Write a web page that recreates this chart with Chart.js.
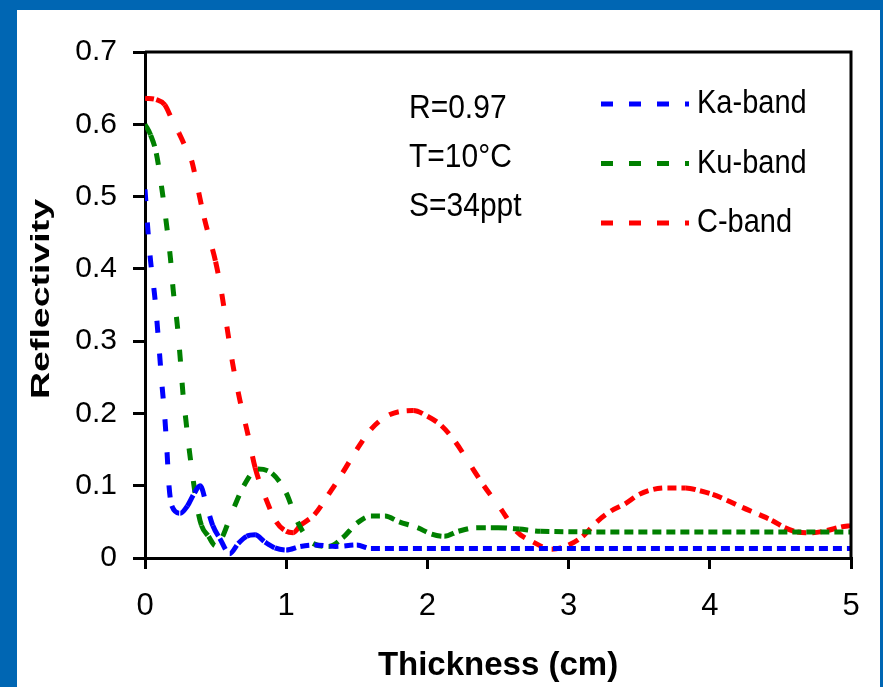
<!DOCTYPE html>
<html>
<head>
<meta charset="utf-8">
<script src="https://cdn.jsdelivr.net/npm/chart.js@4"></script>
<style>
  html, body { margin: 0; padding: 0; background: #fff; }
  #box { position: relative; width: 883px; height: 687px; }
</style>
</head>
<body>
<div id="box"><canvas id="refl"></canvas></div>
<script>
// Reflectivity vs thickness, three radar bands (R=0.97, T=10°C, S=34ppt)

const kaX = [0, 0.02, 0.04, 0.07, 0.1, 0.12, 0.14, 0.155, 0.17, 0.19, 0.25, 0.3, 0.35, 0.39, 0.44, 0.48, 0.53, 0.6, 0.66, 0.72, 0.78, 0.85, 0.92, 1.0, 1.1, 1.2, 1.35, 1.5, 1.6, 2, 3, 4, 5];
const kaY = [0.51, 0.455, 0.41, 0.36, 0.29, 0.24, 0.195, 0.15, 0.1, 0.072, 0.062, 0.072, 0.09, 0.1, 0.07, 0.045, 0.027, 0.006, 0.02, 0.03, 0.032, 0.022, 0.014, 0.011, 0.016, 0.018, 0.016, 0.018, 0.013, 0.013, 0.013, 0.013, 0.013];

const kuX = [0, 0.04, 0.08, 0.12, 0.15, 0.18, 0.2, 0.23, 0.25, 0.27, 0.29, 0.31, 0.34, 0.37, 0.4, 0.45, 0.5, 0.55, 0.6, 0.7, 0.8, 0.9, 1.0, 1.08, 1.19, 1.3, 1.4, 1.5, 1.6, 1.7, 1.8, 1.93, 2.03, 2.12, 2.22, 2.35, 2.5, 2.65, 2.8, 3.5, 4.5, 5];
const kuY = [0.6, 0.585, 0.56, 0.51, 0.465, 0.415, 0.37, 0.32, 0.275, 0.225, 0.19, 0.155, 0.11, 0.07, 0.045, 0.03, 0.017, 0.03, 0.055, 0.1, 0.123, 0.117, 0.09, 0.05, 0.02, 0.016, 0.028, 0.048, 0.058, 0.058, 0.05, 0.042, 0.033, 0.03, 0.037, 0.042, 0.042, 0.04, 0.037, 0.036, 0.036, 0.036];

const cX = [0, 0.08, 0.14, 0.19, 0.24, 0.29, 0.33, 0.37, 0.42, 0.46, 0.5, 0.54, 0.58, 0.62, 0.67, 0.73, 0.78, 0.86, 0.93, 1.0, 1.05, 1.1, 1.2, 1.3, 1.4, 1.5, 1.6, 1.73, 1.9, 2.0, 2.1, 2.2, 2.3, 2.4, 2.52, 2.63, 2.75, 2.88, 3.0, 3.1, 3.2, 3.3, 3.4, 3.5, 3.6, 3.7, 3.83, 3.93, 4.02, 4.12, 4.23, 4.35, 4.44, 4.53, 4.62, 4.73, 4.83, 4.93, 5];
const cY = [0.636, 0.634, 0.627, 0.607, 0.588, 0.567, 0.55, 0.515, 0.47, 0.44, 0.41, 0.37, 0.32, 0.27, 0.22, 0.17, 0.125, 0.08, 0.05, 0.037, 0.035, 0.045, 0.06, 0.088, 0.118, 0.15, 0.178, 0.198, 0.204, 0.196, 0.183, 0.16, 0.13, 0.1, 0.068, 0.037, 0.022, 0.012, 0.018, 0.03, 0.05, 0.065, 0.075, 0.088, 0.095, 0.097, 0.097, 0.093, 0.088, 0.08, 0.07, 0.06, 0.052, 0.042, 0.036, 0.035, 0.038, 0.043, 0.045];

const bandNames = ["Ka-band", "Ku-band", "C-band"];
const notes = ["R=0.97", "T=10°C", "S=34ppt"];
const xTicks = ["0", "1", "2", "3", "4", "5"];
const yTicks = ["0", "0.1", "0.2", "0.3", "0.4", "0.5", "0.6", "0.7"];

const COL = { ka: "#0000ff", ku: "#008000", c: "#ff0000", frame: "#0066b3", ink: "#000" };
const FONT = "'Liberation Sans', Arial, sans-serif";
Chart.defaults.font.family = FONT;
Chart.defaults.color = COL.ink;

// the source's dashes open up on steep stretches: short gaps when flat, long when vertical
const slopeDash = (c) => {
  const dx = c.p1.x - c.p0.x, dy = c.p1.y - c.p0.y;
  const s = Math.abs(dy) / (Math.hypot(dx, dy) || 1);
  return [Math.round(9 + 3 * s), Math.round(5 + 16 * s)];
};

const pts = (xs, ys) => xs.map((x, i) => ({ x, y: ys[i] }));
const line = (label, xs, ys, color) => ({
  label, data: pts(xs, ys), borderColor: color, backgroundColor: color,
  borderWidth: 5, borderDash: [9, 5], borderCapStyle: "butt",
  segment: { borderDash: slopeDash },
  pointRadius: 0, fill: false, cubicInterpolationMode: "monotone",
});

// text in the source is a little taller than it is wide
const tallText = (ctx, text, x, y, sy) => {
  ctx.save(); ctx.translate(x, y); ctx.scale(1, sy); ctx.fillText(text, 0, 0); ctx.restore();
};

// blue slide frame + white panel, box lines, legend, notes, rotated y title
const deco = {
  id: "deco",
  beforeDraw(chart) {
    const { ctx, width, height } = chart;
    ctx.save();
    ctx.fillStyle = COL.frame; ctx.fillRect(0, 0, width, height);
    ctx.fillStyle = "#fff"; ctx.fillRect(17, 10, 863, height - 10);
    ctx.restore();
  },
  afterDraw(chart) {
    const { ctx, chartArea: a } = chart;
    ctx.save();
    ctx.strokeStyle = COL.ink; ctx.lineWidth = 3;
    ctx.beginPath();
    ctx.moveTo(a.left, a.top); ctx.lineTo(a.right, a.top); ctx.lineTo(a.right, a.bottom);
    ctx.stroke();

    // legend
    chart.data.datasets.forEach((ds, i) => {
      const y = 104 + i * 59.5;
      ctx.strokeStyle = ds.borderColor; ctx.lineWidth = 5; ctx.setLineDash([12, 16]);
      ctx.beginPath(); ctx.moveTo(601, y); ctx.lineTo(689, y); ctx.stroke();
      ctx.setLineDash([]);
      ctx.fillStyle = COL.ink; ctx.font = "29px " + FONT;
      ctx.textAlign = "left"; ctx.textBaseline = "middle";
      tallText(ctx, ds.label, 697, y, 1.17);
    });

    // notes
    ctx.font = "30px " + FONT; ctx.textAlign = "left"; ctx.textBaseline = "middle";
    notes.forEach((t, i) => tallText(ctx, t, 409, 109 + i * 49, 1.08));

    // y title, stretched like the original
    ctx.translate(42, 299); ctx.rotate(-Math.PI / 2); ctx.scale(1.5, 1);
    ctx.font = "bold 25px " + FONT; ctx.textAlign = "center"; ctx.textBaseline = "middle";
    ctx.fillText("Reflectivity", 0, 0);
    ctx.restore();
  },
};

new Chart(document.getElementById("refl"), {
  type: "line",
  data: {
    datasets: [
      line(bandNames[0], kaX, kaY, COL.ka),
      line(bandNames[1], kuX, kuY, COL.ku),
      line(bandNames[2], cX, cY, COL.c),
    ],
  },
  plugins: [deco],
  options: {
    responsive: true, maintainAspectRatio: false, animation: false,
    layout: { padding: { top: 52, right: 32, bottom: 0, left: 0 } },
    plugins: { legend: { display: false }, tooltip: { enabled: false } },
    scales: {
      x: {
        type: "linear", min: 0, max: 5,
        afterFit: (s) => { s.height = 129; },
        border: { color: COL.ink, width: 3 },
        grid: { drawOnChartArea: false, drawTicks: true, tickLength: 11, color: COL.ink, lineWidth: 3 },
        ticks: { stepSize: 1, padding: 19, font: { size: 31 }, color: COL.ink,
          callback: (v, i) => xTicks[i] },
        title: { display: true, text: "Thickness (cm)", font: { size: 33, weight: "bold" },
          color: COL.ink, padding: { top: 0, bottom: 1 } },
      },
      y: {
        min: 0, max: 0.7,
        afterFit: (s) => { s.width = 145; },
        border: { color: COL.ink, width: 3 },
        grid: { drawOnChartArea: false, drawTicks: true, tickLength: 12, color: COL.ink, lineWidth: 3 },
        ticks: { stepSize: 0.1, padding: 16, font: { size: 30 }, color: COL.ink,
          callback: (v, i) => yTicks[i] },
      },
    },
  },
});
</script>
</body>
</html>
